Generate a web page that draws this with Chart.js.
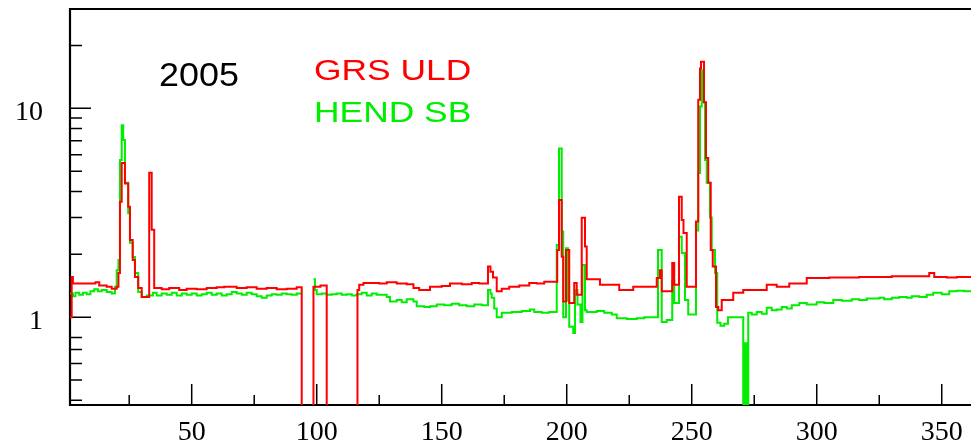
<!DOCTYPE html>
<html>
<head>
<meta charset="utf-8">
<script src="https://cdn.jsdelivr.net/npm/chart.js@4.4.0/dist/chart.umd.min.js"></script>
<style>
  body { margin: 0; background: #fff; }
  .wrap { position: relative; width: 971px; height: 443px; }
  canvas { display: block; }
  .note { position: absolute; font-family: "Liberation Sans", Arial, sans-serif; line-height: 1; white-space: nowrap; transform-origin: 0 0; }
</style>
</head>
<body>
<div class="wrap">
  <canvas id="chart" width="971" height="443"></canvas>
  <div class="note" style="left:159px;top:58px;font-size:33px;color:#000;transform:scaleX(1.09)">2005</div>
  <div class="note" style="left:314px;top:56px;font-size:29px;color:#ff0000;transform:scaleX(1.22)">GRS ULD</div>
  <div class="note" style="left:314px;top:98px;font-size:29px;color:#00ee00;transform:scaleX(1.22)">HEND SB</div>
</div>
<script>
// day of year -> count rate ratio, step values (each value holds until the next day listed)
const grsDays = [1.3, 2, 2.5, 11.5, 13, 16, 18, 20, 20.7, 21.3, 22, 23.3, 24.6, 25.3, 26.4, 27.3, 28.6, 30, 33, 34,
  35, 38, 41, 45, 48, 52, 56, 60, 63, 68, 72, 76, 80, 84, 88, 92, 94, 98.7, 101.5, 104,
  116.3, 117, 118.7, 125, 128, 132, 136, 138.7, 141, 145.3, 150, 153.3, 158, 162, 165, 168.5, 169.5, 170.5, 172, 174,
  177, 181, 185, 188, 191, 196.2, 196.9, 198, 198.6, 199.7, 201, 203, 204, 206, 207.3, 208, 213.3, 221, 226.6, 229.3,
  236, 237.3, 238, 242.2, 243, 244.9, 246, 246.7, 248, 251.7, 252.6, 253.3, 253.7, 254.9, 255.7, 256.6, 257.6, 258.4, 259.7, 260.6,
  262, 266.6, 270.6, 280, 284, 289, 296, 305, 317, 330, 345, 347, 352, 356, 362];
const grsValues = [1.0, 1.56, 1.45, 1.47, 1.42, 1.40, 1.37, 1.40, 1.63, 3.57, 5.47, 4.37, 3.38, 2.34, 1.88, 1.56, 1.38, 1.25, 4.92, 2.62,
  1.38, 1.36, 1.38, 1.35, 1.37, 1.36, 1.38, 1.39, 1.40, 1.38, 1.39, 1.37, 1.38, 1.36, 1.37, 1.39, 0.1, 1.40, 1.42, 0.1,
  1.35, 1.43, 1.46, 1.45, 1.47, 1.45, 1.44, 1.38, 1.35, 1.40, 1.41, 1.45, 1.44, 1.46, 1.45, 1.75, 1.65, 1.55, 1.33, 1.37,
  1.40, 1.42, 1.46, 1.45, 1.48, 2.10, 3.64, 1.95, 1.19, 2.10, 1.17, 1.46, 1.28, 2.99, 2.18, 1.52, 1.43, 1.35, 1.40, 1.40,
  1.54, 1.68, 1.33, 1.82, 1.43, 3.77, 2.92, 2.53, 1.40, 2.87, 11.0, 15.5, 16.7, 10.7, 5.78, 4.4, 2.1, 1.75, 1.12, 1.08,
  1.21, 1.31, 1.35, 1.43, 1.40, 1.45, 1.54, 1.55, 1.56, 1.57, 1.63, 1.56, 1.55, 1.56, 1.56];

const hendDays = [1.3, 2.5, 3.5, 5, 6.5, 8, 9.5, 11, 12.5, 14, 16, 18, 19.3, 20, 20.7, 21.3, 22, 22.6, 23.3, 24.6,
  25.3, 26.4, 27.3, 28.6, 30, 32, 34.5, 36, 38, 40, 42, 44, 46, 48, 50, 52, 54, 56, 58, 60,
  62, 64, 66, 68, 70, 72, 74, 76, 78, 80, 82, 84, 86, 88, 90, 92, 93.9, 94, 98.7, 99.3,
  100, 102, 104, 106, 108, 110, 112, 114, 116, 118, 120, 122, 124, 126, 128, 129.3, 132, 134, 136, 138.7,
  140, 143, 145.3, 148, 151, 154, 157, 160, 163, 166, 168.5, 169.5, 170, 171, 172, 174, 178, 182, 185.3, 187,
  190, 193, 196, 196.9, 198, 198.6, 199.7, 200.5, 201, 202.6, 203.3, 204.3, 205.5, 206.3, 207.3, 208, 212, 215, 218, 220,
  224, 228, 231, 236.5, 238, 240, 242.2, 243, 244.9, 246, 247.3, 248.6, 251.7, 252.6, 253.3, 254, 254.6, 255.3, 256, 257.3,
  258, 259.3, 260.2, 261.5, 263, 264.5, 268, 270.6, 271.3, 272, 272.6, 274, 276, 278, 280, 282, 284, 286, 288, 290,
  293, 296, 300, 303, 306.6, 310, 314, 317, 320, 325, 327, 330, 333, 336, 338, 341, 344, 346.6, 350, 353,
  356, 359, 362];
const hendValues = [1.30, 1.26, 1.31, 1.28, 1.31, 1.29, 1.33, 1.36, 1.33, 1.35, 1.32, 1.30, 1.40, 1.68, 1.88, 5.66, 8.3, 7.05, 4.4, 3.15,
  2.27, 1.94, 1.63, 1.32, 1.25, 1.27, 1.31, 1.27, 1.30, 1.28, 1.31, 1.27, 1.30, 1.28, 1.30, 1.27, 1.29, 1.31, 1.28, 1.30,
  1.27, 1.29, 1.32, 1.30, 1.28, 1.31, 1.29, 1.26, 1.24, 1.27, 1.29, 1.28, 1.30, 1.29, 1.28, 1.30, 1.30, null, 1.52, 1.35,
  1.29, 1.30, 1.28, 1.29, 1.30, 1.28, 1.29, 1.27, 1.29, 1.31, 1.27, 1.30, 1.28, 1.28, 1.25, 1.19, 1.21, 1.18, 1.22, 1.19,
  1.13, 1.12, 1.13, 1.15, 1.14, 1.16, 1.14, 1.13, 1.15, 1.14, 1.35, 1.30, 1.24, 1.10, 1.00, 1.05, 1.06, 1.07, 1.09, 1.06,
  1.05, 1.06, 2.22, 6.43, 2.57, 1.00, 2.14, 1.20, 0.90, 0.84, 1.35, 1.15, 0.95, 1.78, 1.08, 1.06, 1.07, 1.05, 1.03, 0.99,
  0.98, 0.99, 1.00, 2.10, 0.95, 0.97, 1.50, 1.17, 2.43, 2.03, 1.21, 1.03, 2.60, 4.90, 10.2, 15.2, 10.7, 5.66, 4.4, 3.0,
  2.1, 1.63, 0.94, 0.91, 0.93, 1.00, 1.00, 0.30, 0.75, 0.30, 1.05, 1.03, 1.06, 1.04, 1.11, 1.08, 1.09, 1.12, 1.10, 1.14,
  1.17, 1.15, 1.18, 1.17, 1.21, 1.20, 1.22, 1.21, 1.23, 1.24, 1.22, 1.24, 1.25, 1.24, 1.26, 1.25, 1.28, 1.31, 1.29, 1.33,
  1.34, 1.33, 1.35];

const xMajorTicks = [50, 100, 150, 200, 250, 300, 350];
const xMinorTicks = [25, 75, 125, 175, 225, 275, 325];
const yMajorTicks = [1, 10];
const yMinorTicks = [0.4, 0.5, 0.6, 0.7, 0.8, 2, 3, 4, 5, 6, 7, 8, 9, 20];

const toPoints = (days, values) => days.map((d, i) => ({ x: d, y: values[i] }));

// frame and inward tick marks, drawn under the data
const framePlugin = {
    id: 'frame',
    beforeDatasetsDraw(chart) {
        const { ctx, chartArea: { left, top, right, bottom }, scales: { x, y } } = chart;
        ctx.save();
        ctx.strokeStyle = '#000';
        ctx.lineWidth = 1.5;
        ctx.beginPath();
        yMajorTicks.forEach(v => { const p = y.getPixelForValue(v); ctx.moveTo(left, p); ctx.lineTo(left + 21, p); });
        yMinorTicks.forEach(v => { const p = y.getPixelForValue(v); ctx.moveTo(left, p); ctx.lineTo(left + 12, p); });
        xMajorTicks.forEach(v => { const p = x.getPixelForValue(v); ctx.moveTo(p, bottom); ctx.lineTo(p, bottom - 21); });
        xMinorTicks.forEach(v => { const p = x.getPixelForValue(v); ctx.moveTo(p, bottom); ctx.lineTo(p, bottom - 10); });
        ctx.stroke();
        ctx.lineWidth = 2.2;
        ctx.beginPath();
        ctx.moveTo(right, top);
        ctx.lineTo(left, top);
        ctx.lineTo(left, bottom);
        ctx.lineTo(right, bottom);
        ctx.stroke();
        ctx.restore();
    }
};

const tickFont = { family: '"Liberation Serif", "Times New Roman", serif', size: 28 };

new Chart(document.getElementById('chart'), {
    type: 'line',
    data: {
        datasets: [{
            label: 'GRS ULD',
            data: toPoints(grsDays, grsValues),
            borderColor: '#ff0000',
            borderWidth: 2,
            stepped: true,
            pointRadius: 0,
            fill: false
        }, {
            label: 'HEND SB',
            data: toPoints(hendDays, hendValues),
            borderColor: '#00ee00',
            borderWidth: 2,
            stepped: true,
            pointRadius: 0,
            fill: false
        }]
    },
    options: {
        responsive: false,
        animation: false,
        layout: { padding: { top: 9, right: 0, bottom: 0, left: 0 } },
        plugins: {
            legend: { display: false },
            tooltip: { enabled: false }
        },
        scales: {
            x: {
                type: 'linear',
                min: 1.32,
                max: 361.7,
                grid: { display: false, drawTicks: false },
                border: { display: false },
                ticks: {
                    font: tickFont,
                    color: '#000',
                    padding: 11,
                    maxRotation: 0,
                    autoSkip: false
                },
                afterBuildTicks: s => { s.ticks = xMajorTicks.map(v => ({ value: v })); },
                afterFit: s => { s.height = 38; s.paddingLeft = 0; s.paddingRight = 0; }
            },
            y: {
                type: 'logarithmic',
                min: 0.38,
                max: 29.9,
                grid: { display: false, drawTicks: false },
                border: { display: false },
                ticks: {
                    font: tickFont,
                    color: '#000',
                    padding: 27,
                    labelOffset: 4,
                    callback: v => String(v)
                },
                afterBuildTicks: s => { s.ticks = yMajorTicks.map(v => ({ value: v })); },
                afterFit: s => { s.width = 70; s.paddingTop = 0; s.paddingBottom = 0; }
            }
        }
    },
    plugins: [framePlugin]
});
</script>
</body>
</html>
